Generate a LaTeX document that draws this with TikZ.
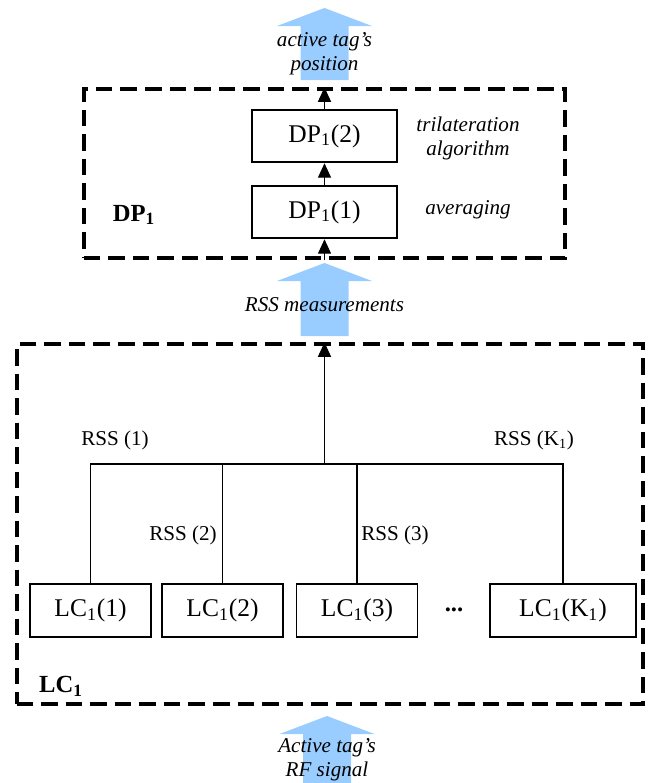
\documentclass[tikz,border=0pt]{standalone}
\usepackage{fontspec}
\setmainfont{Liberation Serif}
\usepackage{tikz}
\usetikzlibrary{arrows.meta}
\definecolor{flowblue}{RGB}{153,204,255}
% wide blue flow arrow: x centre, tip y, head base y, tail y
\newcommand{\flowarrow}[4]{%
  \fill[flowblue] (#1-47.5,#3) -- (#1,#2) -- (#1+47.5,#3) -- (#1+24,#3)
    -- (#1+24,#4) -- (#1-24,#4) -- (#1-24,#3) -- cycle;}

\begin{document}
\begin{tikzpicture}[x=0.2mm,y=-0.2mm,>={Triangle[length=2.9mm,width=2.6mm]},
  unit/.style={draw,line width=1.1pt,inner sep=0pt,minimum height=10.5mm,
    font=\fontsize{14.5}{16}\selectfont},
  group/.style={draw,line width=1.9pt,dash pattern=on 3.3mm off 1.6mm,
    inner sep=0pt},
  note/.style={font=\fontsize{12}{13.7}\selectfont\itshape,align=center},
  tag/.style={font=\fontsize{12}{14}\selectfont},
  grouplabel/.style={font=\fontsize{14}{16}\selectfont\bfseries},
  wire/.style={line width=0.8pt}]
  \useasboundingbox (0,0) rectangle (655,783);
  % blue flows
  \flowarrow{324.5}{8}{26}{80}
  \flowarrow{324.5}{263}{281}{336}
  \flowarrow{327}{716}{734}{783}
  % DP1 group
  \node[group,minimum width=96.2mm,minimum height=33.8mm] (dpgroup) at (324.5,173.5) {};
  \node[unit,minimum width=29mm] (dp2) at (324.5,136) {DP\textsubscript{1}(2)};
  \node[unit,minimum width=29mm] (dp1) at (324.5,212) {DP\textsubscript{1}(1)};
  \node[grouplabel] (dplabel) at (134,215) {DP\textsubscript{1}};
  \node[note] (trilat) at (468,138) {trilateration\\algorithm};
  \node[note] (avg) at (468,210) {averaging};
  \draw[->,wire] (dpgroup.south -| dp1) -- (dp1.south);
  \draw[->,wire] (dp1.north) -- (dp2.south);
  \draw[->,wire] (dp2.north) -- (dpgroup.north -| dp2);
  % LC1 group
  \node[group,minimum width=125.2mm,minimum height=72mm] (lcgroup) at (330,524) {};
  \node[unit,minimum width=24.2mm] (lc1) at (90.5,610.5) {LC\textsubscript{1}(1)};
  \node[unit,minimum width=24.2mm] (lc2) at (222.5,610.5) {LC\textsubscript{1}(2)};
  \node[unit,minimum width=24.2mm] (lc3) at (357,610.5) {LC\textsubscript{1}(3)};
  \node[unit,minimum width=29.2mm] (lck) at (563,610.5) {LC\textsubscript{1}(K\textsubscript{1})};
  \node[font=\fontsize{14}{16}\selectfont\bfseries] (dots) at (454,610) {...};
  \node[grouplabel] (lclabel) at (61,686) {LC\textsubscript{1}};
  \coordinate (join) at (324.5,464);
  \draw[wire] (lc1.north) |- (join) -| (lck.north);
  \draw[wire] (lc2.north) -- (lc2.north |- join);
  \draw[wire] (lc3.north) -- (lc3.north |- join);
  \draw[->,wire] (join) -- (lcgroup.north -| join);
  \node[tag] (rss1) at (115,440) {RSS (1)};
  \node[tag] (rss2) at (183,535) {RSS (2)};
  \node[tag] (rss3) at (395,535) {RSS (3)};
  \node[tag] (rssk) at (534,440) {RSS (K\textsubscript{1})};
  % flow texts
  \node[note] (pos) at (324.5,54) {active tag's\\position};
  \node[note] (meas) at (324.5,305) {RSS measurements};
  \node[note] (rf) at (327,760) {Active tag's\\RF signal};
\end{tikzpicture}
\end{document}
